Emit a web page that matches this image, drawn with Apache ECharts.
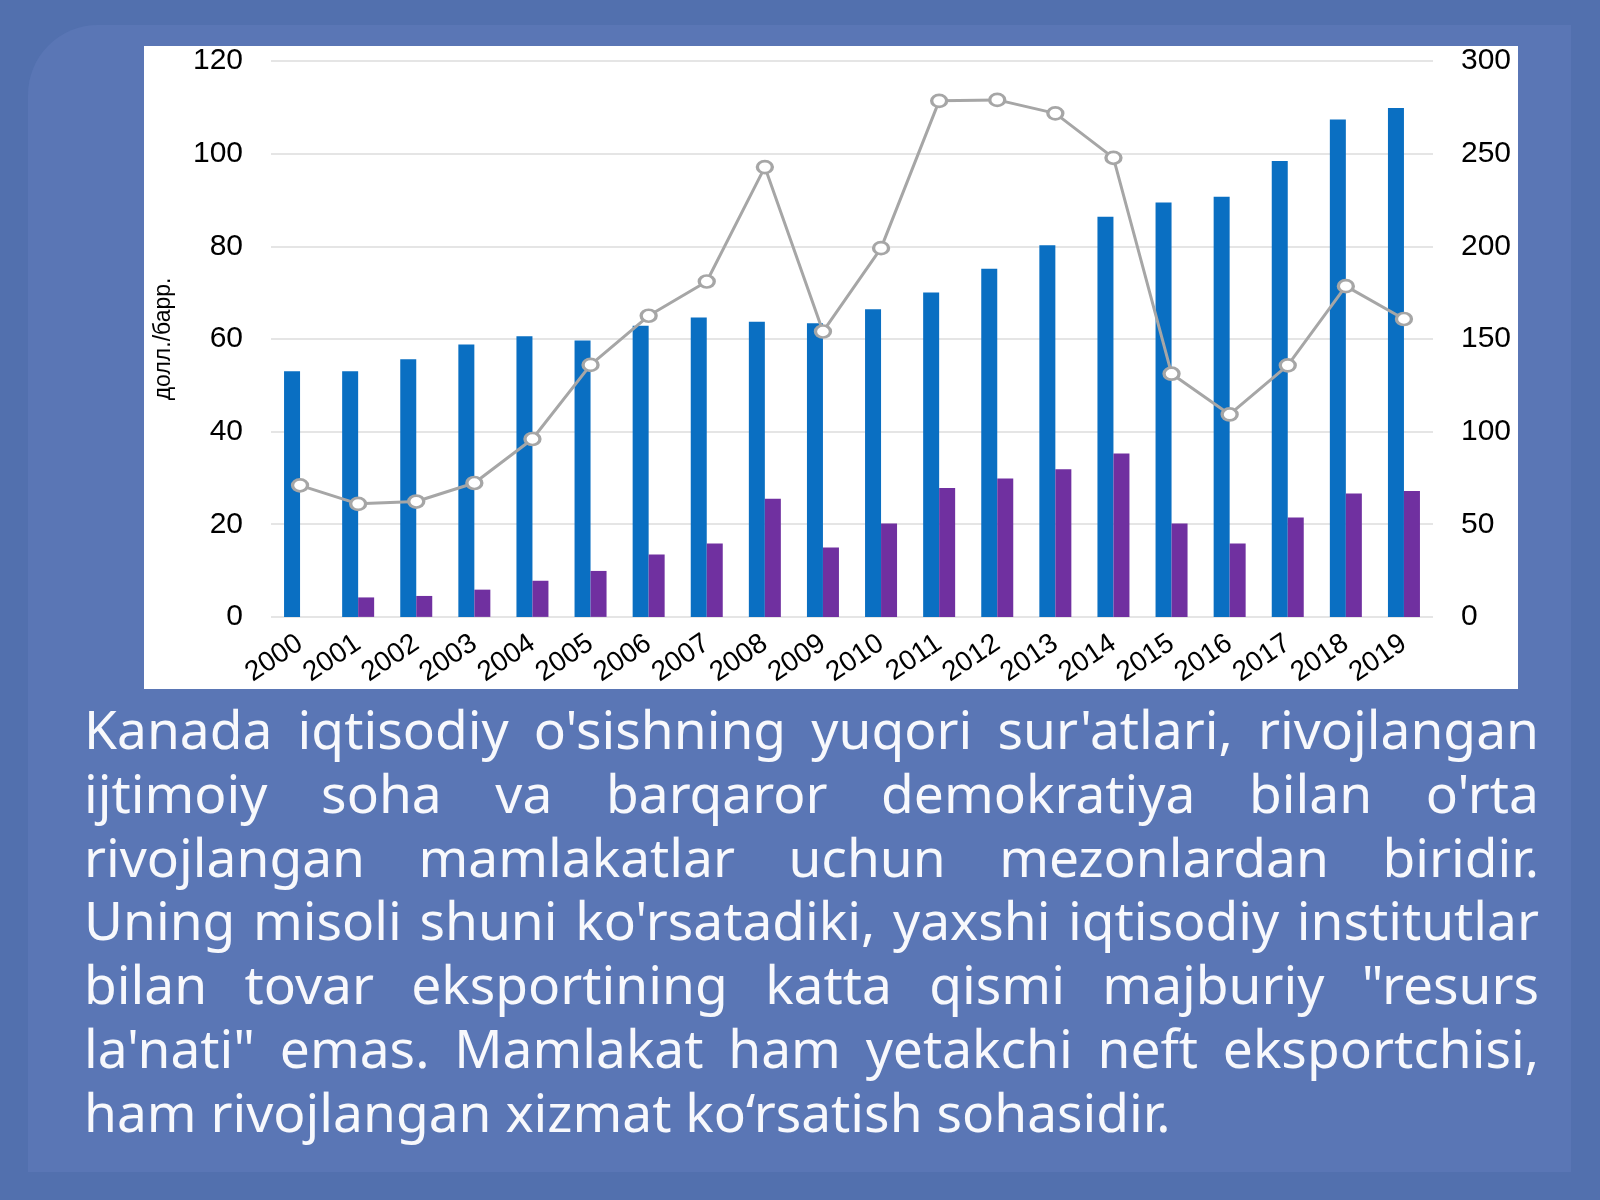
<!DOCTYPE html>
<html>
<head>
<meta charset="utf-8">
<script src="https://cdn.jsdelivr.net/npm/echarts@6/dist/echarts.min.js"></script>
<style>
  html, body { margin:0; padding:0; width:1600px; height:1200px; overflow:hidden; background:#5270ae; }
  #inner { position:absolute; left:28px; top:25px; width:1543px; height:1147px; background:#5a76b5; border-radius:70px 0 0 0; }
  #panel { position:absolute; left:144px; top:46px; width:1374px; height:643px; background:#ffffff; }
  #chart { position:absolute; left:144px; top:46px; width:1374px; height:643px; }
  #para { position:absolute; left:84px; top:697px; width:1455px; font-family:'Noto Sans', sans-serif; font-size:53.3px; line-height:63.8px; color:#f7f8fc; }
  #para div { text-align:justify; text-align-last:justify; white-space:nowrap; }
  #para div.last { text-align-last:left; }
</style>
</head>
<body>
<div id="inner"></div>
<div id="panel"></div>
<div id="chart"></div>
<div id="para">
  <div>Kanada iqtisodiy o'sishning yuqori sur'atlari, rivojlangan</div>
  <div>ijtimoiy soha va barqaror demokratiya bilan o'rta</div>
  <div>rivojlangan mamlakatlar uchun mezonlardan biridir.</div>
  <div>Uning misoli shuni ko'rsatadiki, yaxshi iqtisodiy institutlar</div>
  <div>bilan tovar eksportining katta qismi majburiy "resurs</div>
  <div>la'nati" emas. Mamlakat ham yetakchi neft eksportchisi,</div>
  <div class="last">ham rivojlangan xizmat ko‘rsatish sohasidir.</div>
</div>
<script>
const years = ['2000','2001','2002','2003','2004','2005','2006','2007','2008','2009','2010','2011','2012','2013','2014','2015','2016','2017','2018','2019'];
const production = [132.5,132.5,139,147,151.4,149.1,157.1,161.6,159.3,158.5,166,175,187.9,200.5,215.9,223.6,226.8,246,268.4,274.6];
const exportsVal = [0,10.5,11.3,14.7,19.5,24.8,33.7,39.6,63.7,37.5,50.4,69.6,74.7,79.7,88.2,50.4,39.6,53.6,66.6,68.0];
const oilPrice = [28.4,24.4,24.9,28.9,38.4,54.4,65.0,72.4,97.1,61.6,79.6,111.4,111.6,108.7,99.1,52.5,43.7,54.3,71.4,64.3];
const leftAxisName = 'долл./барр.';

const chart = echarts.init(document.getElementById('chart'), null, {renderer:'canvas'});
const labelFont = 'Liberation Sans, Arial, sans-serif';
chart.setOption({
  animation:false,
  grid:{left:126, right:85, top:10.7, bottom:72},
  xAxis:{
    type:'category', data:years,
    axisLine:{show:false}, axisTick:{show:false},
    axisLabel:{rotate:34, margin:24, fontSize:28, fontFamily:labelFont, color:'#000', interval:0}
  },
  yAxis:[
    {
      type:'value', min:0, max:120, interval:20,
      name:leftAxisName, nameLocation:'middle', nameGap:96, nameRotate:90,
      nameTextStyle:{fontSize:23, fontFamily:labelFont, color:'#000'},
      axisLabel:{fontSize:30, margin:28, color:'#000', fontFamily:labelFont},
      splitLine:{lineStyle:{color:'#dcdcdc', width:1.5}},
      axisLine:{show:false}, axisTick:{show:false}
    },
    {
      type:'value', min:0, max:300, interval:50, position:'right',
      axisLabel:{fontSize:30, margin:28, color:'#000', fontFamily:labelFont},
      splitLine:{show:false}, axisLine:{show:false}, axisTick:{show:false}
    }
  ],
  series:[
    {type:'bar', yAxisIndex:1, data:production, barWidth:16, barGap:'0%', itemStyle:{color:'#0a6fc2'}},
    {type:'bar', yAxisIndex:1, data:exportsVal, barWidth:16, barGap:'0%', itemStyle:{color:'#7030a0'}},
    {type:'line', yAxisIndex:0, data:oilPrice, symbol:'circle', symbolSize:[15,12], z:5,
     lineStyle:{color:'#a6a6a6', width:3},
     itemStyle:{color:'#ffffff', borderColor:'#a6a6a6', borderWidth:3}}
  ]
});
</script>
</body>
</html>
